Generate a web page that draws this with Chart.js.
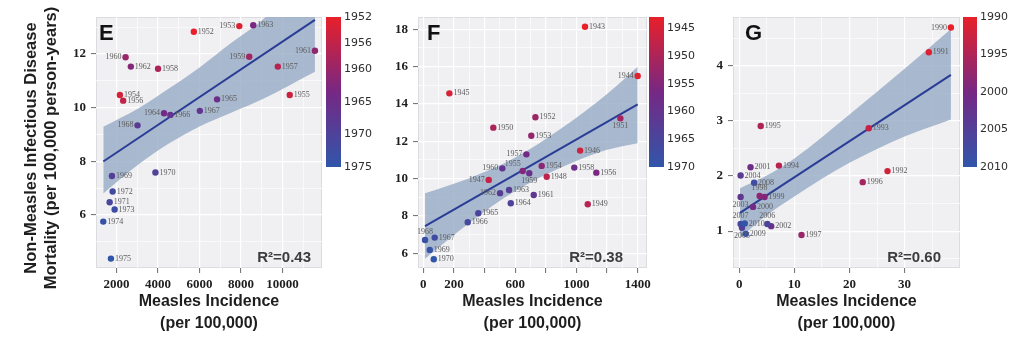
<!DOCTYPE html>
<html>
<head>
<meta charset="utf-8">
<script src="https://cdn.jsdelivr.net/npm/chart.js@4.4.1/dist/chart.umd.min.js"></script>
<style>
  html, body { margin: 0; padding: 0; background: #fff; }
  #wrap { position: relative; width: 1024px; height: 350px; overflow: hidden; }
  canvas { position: absolute; top: 0; }
</style>
</head>
<body>
<div id="wrap">
  <canvas id="chartE" width="326" height="350" style="left:0px"></canvas>
  <canvas id="barE" width="60" height="185" style="left:320px"></canvas>
  <canvas id="chartF" width="290" height="350" style="left:372px"></canvas>
  <canvas id="barF" width="60" height="185" style="left:643px"></canvas>
  <canvas id="chartG" width="274" height="350" style="left:690px"></canvas>
  <canvas id="barG" width="67" height="185" style="left:957px"></canvas>
</div>
<script>
// ---- panel E : 1952-1975 ----
const E_YEARS = [1952,1953,1954,1955,1956,1957,1958,1959,1960,1961,1962,1963,1964,1965,1966,1967,1968,1969,1970,1971,1972,1973,1974,1975];
const E_INCIDENCE = [5725,7918,2158,10350,2317,9776,3998,8398,2432,11566,2686,8590,4286,6846,4592,6014,3008,1774,3872,1664,1808,1904,1357,1726];
const E_MORTALITY = [12.83,13.04,10.47,10.47,10.26,11.53,11.45,11.9,11.88,12.12,11.53,13.07,9.79,10.31,9.73,9.88,9.34,7.45,7.58,6.47,6.87,6.2,5.75,4.37];
const E_FIT_X = [1357, 11566];
const E_FIT_Y = [7.99, 13.27];
const E_BAND_X = [1357, 3000, 4500, 6000, 7500, 9000, 11566];
const E_BAND_HI = [9.29, 9.95, 10.7, 11.5, 12.4, 13.25, 15.2];
const E_BAND_LO = [6.8, 7.85, 8.65, 9.3, 9.8, 10.3, 11.34];
const E_X_TICKS = [2000, 4000, 6000, 8000, 10000];
const E_X_LABELS = ['2000', '4000', '6000', '8000', '10000'];
const E_X_MINOR = [1000, 3000, 5000, 7000, 9000, 11000];
const E_Y_TICKS = [6, 8, 10, 12];
const E_Y_MINOR = [5, 7, 9, 11, 13];
const E_X_RANGE = [1006, 11906];
const E_Y_RANGE = [4.02, 13.38];
const E_BAR_TICKS = [1952, 1956, 1960, 1965, 1970, 1975];
const E_R2 = 'R\u00b2=0.43';

// ---- panel F : 1943-1970 ----
const F_YEARS = [1943,1944,1945,1946,1947,1948,1949,1950,1951,1952,1953,1954,1955,1956,1957,1958,1959,1960,1961,1962,1963,1964,1965,1966,1967,1968,1969,1970];
const F_INCIDENCE = [1056,1400,170,1024,427,806,1074,457,1287,732,705,773,649,1130,673,986,692,516,721,501,560,571,359,290,74,11,42,68];
const F_MORTALITY = [18.14,15.5,14.57,11.5,9.93,10.1,8.63,12.73,13.23,13.29,12.3,10.68,10.41,10.32,11.3,10.59,10.29,10.55,9.12,9.22,9.39,8.68,8.14,7.66,6.84,6.71,6.18,5.68];
const F_FIT_X = [11, 1400];
const F_FIT_Y = [7.46, 13.98];
const F_BAND_X = [11, 300, 600, 900, 1200, 1400];
const F_BAND_HI = [9.21, 10.02, 11.13, 12.69, 14.54, 16.0];
const F_BAND_LO = [5.71, 7.62, 9.33, 10.59, 11.54, 11.9];
const F_X_TICKS = [0, 200, 400, 600, 800, 1000, 1200, 1400];
const F_X_LABELS = ['0', '200', '', '600', '', '1000', '', '1400'];
const F_X_MINOR = [100, 300, 500, 700, 900, 1100, 1300];
const F_Y_TICKS = [6, 8, 10, 12, 14, 16, 18];
const F_Y_MINOR = [7, 9, 11, 13, 15, 17];
const F_X_RANGE = [-35, 1461];
const F_Y_RANGE = [5.21, 18.66];
const F_BAR_TICKS = [1945, 1950, 1955, 1960, 1965, 1970];
const F_R2 = 'R\u00b2=0.38';

// ---- panel G : 1990-2010 ----
const G_YEARS = [1990,1991,1992,1993,1994,1995,1996,1997,1998,1999,2000,2001,2002,2003,2004,2005,2006,2007,2008,2009,2010];
const G_INCIDENCE = [38.4,34.4,26.9,23.5,7.2,3.9,22.4,11.3,3.7,4.6,2.5,2.05,5.8,0.25,0.25,0.5,5.1,0.25,2.7,1.2,1.0];
const G_MORTALITY = [4.70,4.25,2.09,2.87,2.19,2.91,1.89,0.93,1.64,1.62,1.44,2.16,1.09,1.62,2.01,1.06,1.13,1.13,1.88,0.95,1.14];
const G_FIT_X = [0.13, 38.4];
const G_FIT_Y = [1.33, 3.84];
const G_BAND_X = [0.13, 5, 10, 20, 30, 38.4];
const G_BAND_HI = [1.78, 2.01, 2.32, 3.12, 3.95, 4.67];
const G_BAND_LO = [0.88, 1.29, 1.63, 2.24, 2.72, 3.03];
const G_X_TICKS = [0, 10, 20, 30];
const G_X_LABELS = ['0', '10', '20', '30'];
const G_X_MINOR = [5, 15, 25, 35];
const G_Y_TICKS = [1, 2, 3, 4];
const G_Y_MINOR = [0.5, 1.5, 2.5, 3.5, 4.5];
const G_X_RANGE = [-1.13, 40.05];
const G_Y_RANGE = [0.33, 4.89];
const G_BAR_TICKS = [1990, 1995, 2000, 2005, 2010];
const G_R2 = 'R\u00b2=0.60';

const Y_TITLE = ['Non-Measles Infectious Disease', 'Mortality (per 100,000 person-years)'];
const X_TITLE = ['Measles Incidence', '(per 100,000)'];

// where each year label sits relative to its dot (r, l, a, b, al)
const E_SIDES = ['r','l','r','r','r','r','r','l','l','l','r','r','l','r','r','r','l','r','r','r','r','r','r','r'];
const F_SIDES = ['r','l','r','r','l','r','r','r','b','r','r','r','al','r','l','r','b','l','r','l','r','r','r','r','r','a','r','r'];
const G_SIDES = ['l','r','r','r','r','r','r','r','a','r','r','r','r','b','r','b','a','a','r','r','r'];

const GRAD = [[232, 32, 42], [118, 40, 132], [48, 86, 170]];

function yearColor(yr, y0, y1) {
  let t = (yr - y0) / (y1 - y0);
  t = Math.min(1, Math.max(0, t));
  const seg = t < 0.5 ? 0 : 1;
  const u = t < 0.5 ? t * 2 : (t - 0.5) * 2;
  const a = GRAD[seg], b = GRAD[seg + 1];
  const c = a.map((v, i) => Math.round(v + (b[i] - v) * u));
  return 'rgb(' + c.join(',') + ')';
}

const toPts = (xs, ys) => xs.map((v, i) => ({ x: v, y: ys[i] }));

const panelDeco = {
  id: 'panelDeco',
  beforeDraw(chart, args, opts) {
    const a = chart.chartArea, ctx = chart.ctx;
    ctx.save();
    ctx.fillStyle = '#f0f0f3';
    ctx.fillRect(a.left, a.top, a.right - a.left, a.bottom - a.top);
    ctx.strokeStyle = '#dcdce0';
    ctx.lineWidth = 1;
    ctx.strokeRect(a.left + 0.5, a.top + 0.5, a.right - a.left - 1, a.bottom - a.top - 1);
    ctx.restore();
  },
  afterDraw(chart, args, opts) {
    const a = chart.chartArea, ctx = chart.ctx;
    ctx.save();
    ctx.fillStyle = '#111';
    ctx.font = 'bold 22px "Liberation Sans Narrow", "Liberation Sans", sans-serif';
    ctx.textAlign = 'left';
    ctx.textBaseline = 'alphabetic';
    ctx.fillText(opts.letter, a.left + opts.letterDx, a.top + 23);
    ctx.fillStyle = '#3c3c3c';
    ctx.font = 'bold 15px "Liberation Sans", sans-serif';
    ctx.textAlign = 'right';
    ctx.textBaseline = 'middle';
    ctx.fillText(opts.r2, a.right - opts.r2Dx, a.bottom - 10);
    if (opts.yTitle) {
      ctx.fillStyle = '#1e1e1e';
      ctx.font = 'bold 16.5px "Liberation Sans", sans-serif';
      ctx.textAlign = 'center';
      ctx.translate(0, 148);
      ctx.rotate(-Math.PI / 2);
      ctx.fillText(opts.yTitle[0], 0, 31);
      ctx.fillText(opts.yTitle[1], 0, 51);
    }
    ctx.restore();
  }
};

const yearLabels = {
  id: 'yearLabels',
  afterDatasetsDraw(chart, args, opts) {
    const meta = chart.getDatasetMeta(0);
    const ctx = chart.ctx;
    ctx.save();
    ctx.font = '8px "Liberation Serif", serif';
    ctx.fillStyle = '#5c5c5c';
    meta.data.forEach((pt, i) => {
      const side = opts.sides[i];
      let x = pt.x, y = pt.y;
      ctx.textAlign = 'left';
      ctx.textBaseline = 'middle';
      if (side === 'l') { ctx.textAlign = 'right'; x -= 4; }
      else if (side === 'a') { ctx.textAlign = 'center'; y -= 8; }
      else if (side === 'b') { ctx.textAlign = 'center'; y += 8; }
      else if (side === 'al') { ctx.textAlign = 'right'; x -= 2; y -= 7; }
      else { x += 4; }
      ctx.fillText(String(opts.years[i]), x, y);
    });
    ctx.restore();
  }
};

function axis(range, major, labels, minor, fixSize, isX) {
  const all = major.concat(minor).filter(v => v >= range[0] && v <= range[1]).sort((a, b) => a - b);
  const isMajor = ctx => ctx.tick && major.indexOf(ctx.tick.value) >= 0;
  return {
    type: 'linear',
    min: range[0],
    max: range[1],
    afterBuildTicks: s => { s.ticks = all.map(v => ({ value: v })); },
    afterFit: s => { if (isX) s.height = fixSize; else s.width = fixSize; },
    border: { display: false },
    grid: {
      color: '#ffffff',
      lineWidth: ctx => isMajor(ctx) ? 1.2 : 0.6,
      drawTicks: true,
      tickLength: 5,
      tickColor: ctx => isMajor(ctx) ? '#6a6a6a' : 'rgba(0,0,0,0)',
      tickWidth: 1
    },
    ticks: {
      autoSkip: false,
      maxRotation: 0,
      padding: isX ? 4 : 5,
      color: '#1e1e1e',
      font: { family: '"Liberation Serif", serif', size: 13, weight: 'bold' },
      callback: v => { const i = major.indexOf(v); return i >= 0 ? labels[i] : ''; }
    }
  };
}

function makePanel(p) {
  const xScale = axis(p.xRange, p.xMajor, p.xLabels, p.xMinor, 82, true);
  xScale.title = {
    display: true,
    text: X_TITLE,
    color: '#1e1e1e',
    font: { family: '"Liberation Sans", sans-serif', size: 16, weight: 'bold', lineHeight: 1.35 },
    padding: { top: 0, bottom: 16 }
  };
  const yScale = axis(p.yRange, p.yMajor, p.yMajor.map(String), p.yMinor, p.axisW, false);
  new Chart(document.getElementById(p.id), {
    type: 'scatter',
    data: {
      datasets: [
        {
          type: 'scatter',
          data: toPts(p.x, p.y),
          pointRadius: 3.2,
          pointBorderWidth: 0,
          pointBackgroundColor: p.years.map(yr => yearColor(yr, p.yearMin, p.yearMax))
        },
        {
          type: 'line',
          data: toPts(p.fitX, p.fitY),
          borderColor: '#2a3d96',
          borderWidth: 2,
          pointRadius: 0,
          fill: false
        },
        {
          type: 'line',
          data: toPts(p.bandX, p.bandHi),
          borderColor: 'rgba(0,0,0,0)',
          borderWidth: 0,
          pointRadius: 0,
          cubicInterpolationMode: 'monotone',
          fill: false
        },
        {
          type: 'line',
          data: toPts(p.bandX, p.bandLo),
          borderColor: 'rgba(0,0,0,0)',
          borderWidth: 0,
          pointRadius: 0,
          cubicInterpolationMode: 'monotone',
          fill: '-1',
          backgroundColor: 'rgba(150,170,196,0.8)'
        }
      ]
    },
    options: {
      responsive: false,
      animation: false,
      events: [],
      layout: { padding: { left: 0, top: 17, right: p.padRight, bottom: 0 } },
      scales: { x: xScale, y: yScale },
      plugins: {
        legend: { display: false },
        tooltip: { enabled: false },
        panelDeco: { letter: p.letter, letterDx: p.letterDx, r2: p.r2, r2Dx: p.r2Dx, yTitle: p.yTitle },
        yearLabels: { years: p.years, sides: p.sides }
      }
    },
    plugins: [panelDeco, yearLabels]
  });
}

function makeColorbar(id, y0, y1, ticks, axisW) {
  new Chart(document.getElementById(id), {
    type: 'bar',
    data: {
      labels: [''],
      datasets: [{
        data: [[y0, y1]],
        barPercentage: 1,
        categoryPercentage: 1,
        borderWidth: 0,
        backgroundColor: c => {
          const a = c.chart.chartArea;
          if (!a) return 'rgb(232,32,42)';
          const g = c.chart.ctx.createLinearGradient(0, a.top, 0, a.bottom);
          GRAD.forEach((s, i) => g.addColorStop(i / (GRAD.length - 1), 'rgb(' + s.join(',') + ')'));
          return g;
        }
      }]
    },
    options: {
      responsive: false,
      animation: false,
      events: [],
      layout: { padding: { left: 6, top: 17, right: 0, bottom: 18 } },
      scales: {
        x: { display: false },
        y: {
          position: 'right',
          reverse: true,
          min: y0,
          max: y1,
          afterBuildTicks: s => { s.ticks = ticks.map(v => ({ value: v })); },
          afterFit: s => { s.width = axisW; },
          border: { display: false },
          grid: { display: false, drawTicks: false },
          ticks: {
            padding: 3,
            color: '#2e2e2e',
            font: { family: '"DejaVu Sans", sans-serif', size: 11 },
            callback: v => String(v)
          }
        }
      },
      plugins: { legend: { display: false }, tooltip: { enabled: false } }
    }
  });
}

makePanel({
  id: 'chartE', years: E_YEARS, x: E_INCIDENCE, y: E_MORTALITY,
  fitX: E_FIT_X, fitY: E_FIT_Y, bandX: E_BAND_X, bandHi: E_BAND_HI, bandLo: E_BAND_LO,
  xRange: E_X_RANGE, yRange: E_Y_RANGE,
  xMajor: E_X_TICKS, xLabels: E_X_LABELS, xMinor: E_X_MINOR, yMajor: E_Y_TICKS, yMinor: E_Y_MINOR,
  yearMin: 1952, yearMax: 1975, sides: E_SIDES, letter: 'E', r2: E_R2,
  axisW: 96, padRight: 3, yTitle: Y_TITLE, letterDx: 3, r2Dx: 11
});
makePanel({
  id: 'chartF', years: F_YEARS, x: F_INCIDENCE, y: F_MORTALITY,
  fitX: F_FIT_X, fitY: F_FIT_Y, bandX: F_BAND_X, bandHi: F_BAND_HI, bandLo: F_BAND_LO,
  xRange: F_X_RANGE, yRange: F_Y_RANGE,
  xMajor: F_X_TICKS, xLabels: F_X_LABELS, xMinor: F_X_MINOR, yMajor: F_Y_TICKS, yMinor: F_Y_MINOR,
  yearMin: 1943, yearMax: 1970, sides: F_SIDES, letter: 'F', r2: F_R2,
  axisW: 46, padRight: 15, yTitle: null, letterDx: 9, r2Dx: 24
});
makePanel({
  id: 'chartG', years: G_YEARS, x: G_INCIDENCE, y: G_MORTALITY,
  fitX: G_FIT_X, fitY: G_FIT_Y, bandX: G_BAND_X, bandHi: G_BAND_HI, bandLo: G_BAND_LO,
  xRange: G_X_RANGE, yRange: G_Y_RANGE,
  xMajor: G_X_TICKS, xLabels: G_X_LABELS, xMinor: G_X_MINOR, yMajor: G_Y_TICKS, yMinor: G_Y_MINOR,
  yearMin: 1990, yearMax: 2010, sides: G_SIDES, letter: 'G', r2: G_R2,
  axisW: 43, padRight: 2, yTitle: null, letterDx: 12, r2Dx: 19
});

makeColorbar('barE', 1952, 1975, E_BAR_TICKS, 39);
makeColorbar('barF', 1943, 1970, F_BAR_TICKS, 39);
makeColorbar('barG', 1990, 2010, G_BAR_TICKS, 47);
</script>
</body>
</html>
